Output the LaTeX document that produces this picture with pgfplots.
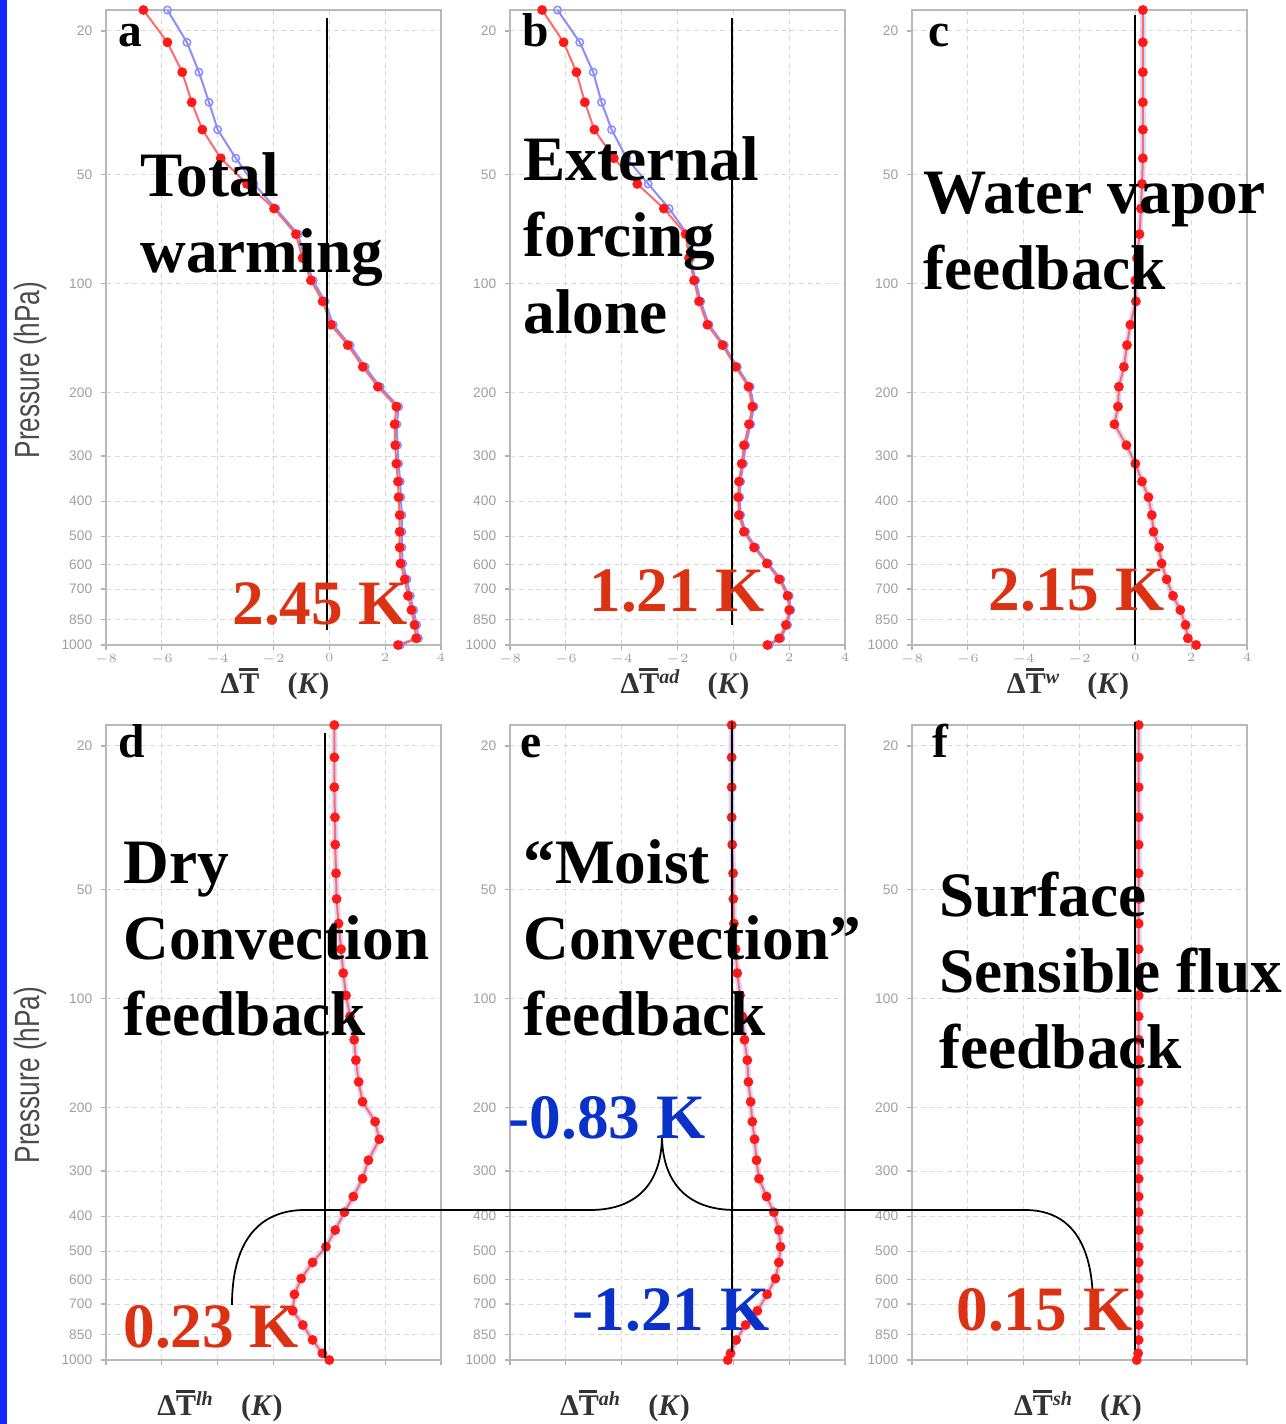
\documentclass[border=0pt]{standalone}
\usepackage{pgfplots}
\usepackage{pgfplotstable}
\pgfplotsset{compat=1.18}
\usepackage{fontspec}
\usepackage{graphicx}
\setmainfont{Liberation Serif}
\newfontfamily\tickfont{Liberation Sans}
\definecolor{annred}{HTML}{DC3214}
\definecolor{annblue}{HTML}{0A32C8}
\definecolor{barblue}{HTML}{1428FF}
\definecolor{linered}{HTML}{FF6A6A}
\definecolor{dotred}{HTML}{FF1A1A}
\definecolor{lav}{HTML}{8C8CFF}

\pgfplotstableread{
p      a      ab     b      bb     c      d      e      f
17.5  -6.66  -5.80  -6.85  -6.30  0.27  0.18  -0.06  0.12
21.5  -5.80  -5.10  -6.08  -5.50  0.27  0.18  -0.06  0.12
26    -5.27  -4.67  -5.62  -5.02  0.27  0.18  -0.06  0.12
31.5  -4.93  -4.31  -5.32  -4.72  0.27  0.20  -0.06  0.12
37.5  -4.55  -4.00  -4.98  -4.36  0.27  0.21  -0.04  0.12
45    -3.89  -3.35  -4.28  -3.82  0.27  0.24  -0.01  0.12
53    -2.95  -2.70  -3.44  -3.05  0.24  0.26   0.00  0.12
62    -1.98  -1.92  -2.49  -2.30  0.20  0.33   0.02  0.12
73    -1.20  -1.12  -1.71  -1.65  0.15  0.42   0.08  0.12
85    -0.96  -0.88  -1.59  -1.53  0.06  0.50   0.14  0.12
98    -0.66  -0.58  -1.41  -1.35  0.00  0.60   0.24  0.12
112   -0.24  -0.16  -1.23  -1.17  0.02  0.74   0.32  0.12
130    0.06   0.14  -0.93  -0.87 -0.18  0.89   0.40  0.12
148    0.66   0.74  -0.39  -0.33 -0.30  0.95   0.50  0.12
170    1.20   1.28   0.08   0.14 -0.41  1.05   0.54  0.12
193    1.74   1.82   0.54   0.60 -0.59  1.19   0.62  0.12
219    2.40   2.48   0.68   0.74 -0.62  1.64   0.68  0.12
245    2.34   2.42   0.56   0.62 -0.75  1.79   0.76  0.12
280    2.36   2.44   0.38   0.44 -0.32  1.40   0.83  0.12
315    2.40   2.48   0.30   0.36  0.00  1.19   0.92  0.12
353    2.46   2.54   0.20   0.26  0.24  0.86   1.19  0.12
390    2.48   2.56   0.17   0.23  0.47  0.54   1.45  0.12
437    2.52   2.60   0.20   0.26  0.59  0.21   1.63  0.12
486    2.52   2.60   0.38   0.44  0.65 -0.12   1.69  0.12
537    2.52   2.60   0.74   0.80  0.85 -0.60   1.63  0.12
595    2.55   2.63   1.20   1.26  0.94 -1.01   1.51  0.12
658    2.70   2.78   1.64   1.70  1.12 -1.25   1.21  0.12
731    2.82   2.90   1.94   2.00  1.35 -1.31   0.86  0.12
800    2.94   3.02   2.00   2.06  1.61 -0.95   0.44  0.12
880    3.05   3.13   1.88   1.94  1.80 -0.60   0.10  0.12
958    3.11   3.19   1.64   1.70  1.88 -0.25  -0.10  0.10
1000   2.46   2.54   1.22   1.28  2.18  0.00  -0.20  0.05
}\proftab

\pgfplotsset{
  every axis/.append style={
    anchor=south west,
    scale only axis, width=134pt, height=254pt,
    xmin=-8, xmax=4, y dir=reverse, ymin=17.5, ymax=1000,
    ytick={20,50,100,200,300,400,500,600,700,850,1000},
    yticklabels={20,50,100,200,300,400,500,600,700,850,1000},
    xtick={-8,-6,-4,-2,0,2,4},
    tick pos=left,
    grid=major, grid style={gray!30, dash pattern=on 2pt off 1.5pt},
    axis line style={gray!55, line width=1.1pt},
    tick style={gray!60, line width=0.5pt},
    tick align=outside, major tick length=2pt,
    tick label style={font=\tickfont\fontsize{5.5}{6}\selectfont, text=gray!75},
    x tick label style={yshift=2pt},
  },
  redline/.style={linered, line width=0.8pt, mark=*, mark size=1.55pt, mark options={fill=dotred, draw=dotred}},
  blueline/.style={lav, line width=0.8pt, mark=o, mark size=1.5pt, mark options={draw=lav, line width=0.6pt}},
  halo/.style={lav!60, line width=2.4pt, opacity=0.55},
}

\newcommand{\bigf}{\fontsize{25.3}{30}\bfseries\selectfont}
\newcommand{\letf}{\fontsize{19}{20}\bfseries\selectfont}
\newcommand{\xlf}{\fontsize{12}{13}\bfseries\selectfont}
\newcommand{\tbar}{\leavevmode\rlap{\raisebox{0.78em}{\rule{0.62em}{0.08em}}}T}
\newcommand{\xlab}[1]{Δ\tbar\textsuperscript{\itshape #1}\hspace{0.9em}(\textit{K})}

\begin{document}
\begin{tikzpicture}
% top row
\begin{semilogyaxis}[at={(42.4pt,-258pt)}]
\addplot[blueline] table[x=ab, y=p]{\proftab};
\addplot[redline] table[x=a, y=p]{\proftab};
\end{semilogyaxis}
\begin{semilogyaxis}[at={(204pt,-258pt)}]
\addplot[blueline] table[x=bb, y=p]{\proftab};
\addplot[redline] table[x=b, y=p]{\proftab};
\end{semilogyaxis}
\begin{semilogyaxis}[at={(364.8pt,-258pt)}]
\addplot[halo] table[x=c, y=p]{\proftab};
\addplot[redline] table[x=c, y=p]{\proftab};
\end{semilogyaxis}
% bottom row
\begin{semilogyaxis}[at={(42.4pt,-544pt)}, xticklabels={}]
\addplot[halo] table[x=d, y=p]{\proftab};
\addplot[redline] table[x=d, y=p]{\proftab};
\end{semilogyaxis}
\begin{semilogyaxis}[at={(204pt,-544pt)}, xticklabels={}]
\addplot[halo] table[x=e, y=p]{\proftab};
\addplot[redline] table[x=e, y=p]{\proftab};
\end{semilogyaxis}
\begin{semilogyaxis}[at={(364.8pt,-544pt)}, xticklabels={}]
\addplot[halo] table[x=f, y=p]{\proftab};
\addplot[redline] table[x=f, y=p]{\proftab};
\end{semilogyaxis}

\begin{scope}[x=0.4pt, y=-0.4pt]
\fill[barblue] (0,0) rectangle (7,1424);
% zero lines
\draw[black, line width=0.8pt] (327,18) -- (327,630);
\draw[black, line width=0.8pt] (732,18) -- (732,625);
\draw[black, line width=0.8pt] (1135,15) -- (1135,645);
\draw[black, line width=0.8pt] (325,733) -- (325,1358);
\draw[black, line width=0.8pt] (732,722) -- (732,1352);
\draw[black, line width=0.8pt] (1135,722) -- (1135,1350);
% brace
\draw[black, line width=0.7pt] (232,1305) .. controls (232,1240) and (260,1210) .. (305,1210)
  -- (590,1210) .. controls (640,1210) and (662,1180) .. (662,1135)
  .. controls (662,1180) and (685,1210) .. (735,1210)
  -- (1025,1210) .. controls (1075,1210) and (1093,1250) .. (1093,1305);
% panel letters
\node[anchor=base west, inner sep=0, font=\letf] at (118,47) {a};
\node[anchor=base west, inner sep=0, font=\letf] at (522,47) {b};
\node[anchor=base west, inner sep=0, font=\letf] at (928,47) {c};
\node[anchor=base west, inner sep=0, font=\letf] at (118,758) {d};
\node[anchor=base west, inner sep=0, font=\letf] at (520,758) {e};
\node[anchor=base west, inner sep=0, font=\letf] at (932,758) {f};
% titles
\node[anchor=base west, inner sep=0, font=\bigf] at (140,197) {Total};
\node[anchor=base west, inner sep=0, font=\bigf] at (140,273) {warming};
\node[anchor=base west, inner sep=0, font=\bigf] at (523,181) {External};
\node[anchor=base west, inner sep=0, font=\bigf] at (523,257) {forcing};
\node[anchor=base west, inner sep=0, font=\bigf] at (523,334) {alone};
\node[anchor=base west, inner sep=0, font=\bigf] at (923,214) {Water vapor};
\node[anchor=base west, inner sep=0, font=\bigf] at (923,290) {feedback};
\node[anchor=base west, inner sep=0, font=\bigf] at (123,884) {Dry};
\node[anchor=base west, inner sep=0, font=\bigf] at (123,960) {Convection};
\node[anchor=base west, inner sep=0, font=\bigf] at (123,1036) {feedback};
\node[anchor=base west, inner sep=0, font=\bigf] at (523,884) {“Moist};
\node[anchor=base west, inner sep=0, font=\bigf] at (523,960) {Convection”};
\node[anchor=base west, inner sep=0, font=\bigf] at (523,1036) {feedback};
\node[anchor=base west, inner sep=0, font=\bigf] at (939,917) {Surface};
\node[anchor=base west, inner sep=0, font=\bigf] at (939,993) {Sensible flux};
\node[anchor=base west, inner sep=0, font=\bigf] at (939,1069) {feedback};
% values
\node[anchor=base west, inner sep=0, font=\bigf, text=annred] at (232,625) {2.45 K};
\node[anchor=base west, inner sep=0, font=\bigf, text=annred] at (589,612) {1.21 K};
\node[anchor=base west, inner sep=0, font=\bigf, text=annred] at (988,611) {2.15 K};
\node[anchor=base west, inner sep=0, font=\bigf, text=annred] at (123,1348) {0.23 K};
\node[anchor=base west, inner sep=0, font=\bigf, text=annblue] at (508,1139) {-0.83 K};
\node[anchor=base west, inner sep=0, font=\bigf, text=annblue] at (572,1331) {-1.21 K};
\node[anchor=base west, inner sep=0, font=\bigf, text=annred] at (956,1331) {0.15 K};
% x labels
\node[anchor=base, inner sep=0, font=\xlf, text=black!80] at (275,694) {\xlab{}};
\node[anchor=base, inner sep=0, font=\xlf, text=black!80] at (685,694) {\xlab{ad}};
\node[anchor=base, inner sep=0, font=\xlf, text=black!80] at (1068,694) {\xlab{w}};
\node[anchor=base, inner sep=0, font=\xlf, text=black!80] at (220,1416) {\xlab{lh}};
\node[anchor=base, inner sep=0, font=\xlf, text=black!80] at (625,1416) {\xlab{ah}};
\node[anchor=base, inner sep=0, font=\xlf, text=black!80] at (1078,1416) {\xlab{sh}};
% y labels
\node[rotate=90, inner sep=0, font=\tickfont\fontsize{14}{15}\selectfont, text=black!70] at (30,370) {\scalebox{0.75}[1]{Pressure (hPa)}};
\node[rotate=90, inner sep=0, font=\tickfont\fontsize{14}{15}\selectfont, text=black!70] at (30,1075) {\scalebox{0.75}[1]{Pressure (hPa)}};
\end{scope}
\pgfresetboundingbox
\path[use as bounding box] (0,0) rectangle (514pt,-569.6pt);
\end{tikzpicture}
\end{document}
